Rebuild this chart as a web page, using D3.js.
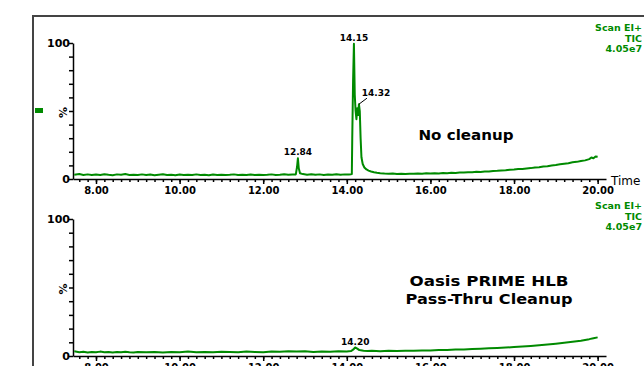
<!DOCTYPE html>
<html>
<head>
<meta charset="utf-8">
<script src="https://cdn.jsdelivr.net/npm/d3@7"></script>
<style>
  body { margin: 0; background: #fff; }
  svg { display: block; }
  .axis text { font-family: "DejaVu Sans", sans-serif; font-weight: bold; font-size: 10px; fill: #000; }
  .axis path, .axis line { stroke: #000; stroke-width: 1.5; }
</style>
</head>
<body>
<div id="chart"></div>
<script>
// chromatogram, no cleanup (time in min, % of 4.05e7)
const topTime = [7.48,7.6,7.7,7.8,7.9,8.0,8.1,8.2,8.3,8.4,8.5,8.6,8.7,8.8,8.9,9.0,9.1,9.2,9.3,9.4,9.5,9.6,9.7,9.8,9.9,10.0,10.1,10.2,10.3,10.4,10.5,10.6,10.7,10.8,10.9,11.0,11.1,11.2,11.3,11.4,11.5,11.6,11.7,11.8,11.9,12.0,12.1,12.2,12.3,12.4,12.5,12.6,12.7,12.78,12.81,12.83,12.85,12.88,12.95,13.05,13.15,13.25,13.35,13.45,13.55,13.65,13.75,13.85,13.95,14.05,14.1,14.12,14.13,14.15,14.17,14.19,14.21,14.23,14.25,14.27,14.29,14.31,14.33,14.35,14.38,14.42,14.47,14.52,14.58,14.65,14.72,14.8,14.9,15.0,15.1,15.2,15.3,15.4,15.5,15.6,15.7,15.8,15.9,16.0,16.1,16.2,16.3,16.4,16.5,16.6,16.7,16.8,16.9,17.0,17.1,17.2,17.3,17.4,17.5,17.6,17.7,17.8,17.9,18.0,18.1,18.2,18.3,18.4,18.5,18.6,18.7,18.8,18.9,19.0,19.1,19.2,19.3,19.4,19.5,19.6,19.7,19.8,19.85,19.9,19.95,20.0]
const topValue = [3.2,3.6,3.0,3.4,2.9,3.3,3.0,3.5,3.1,2.8,3.4,3.1,3.6,3.0,3.2,2.9,3.4,3.0,3.3,2.8,3.2,3.5,3.0,3.1,2.8,3.3,3.0,3.2,2.9,3.4,3.0,3.1,2.8,3.3,3.0,3.2,2.9,3.1,3.4,3.0,3.2,2.9,3.3,3.0,3.2,2.9,3.1,3.4,3.0,3.2,3.5,3.1,3.3,3.4,9.0,15.2,8.0,4.2,3.6,3.2,3.5,3.1,3.4,3.0,3.3,3.1,3.5,3.2,3.4,3.3,3.5,3.6,30,72,99.5,62,50,44,52,47,55,50,30,16,11,8.5,7.0,6.2,5.5,5.0,4.6,4.3,4.0,3.8,4.0,3.7,3.9,3.6,3.9,3.8,4.1,3.9,4.2,4.0,4.3,4.1,4.4,4.3,4.6,4.5,4.8,4.7,5.0,5.0,5.3,5.2,5.6,5.5,5.9,6.0,6.3,6.4,6.8,7.0,7.3,7.4,7.8,8.0,8.5,8.7,9.2,9.4,10.0,10.3,10.8,11.2,11.6,12.3,12.6,13.3,13.7,14.6,15.8,15.3,16.6,16.4]

// chromatogram, Oasis PRIME HLB pass-thru cleanup
const botTime = [7.48,7.6,7.7,7.8,7.9,8.0,8.1,8.2,8.3,8.4,8.5,8.6,8.7,8.8,8.9,9.0,9.2,9.4,9.6,9.8,10.0,10.2,10.4,10.6,10.8,11.0,11.2,11.4,11.6,11.8,12.0,12.2,12.4,12.6,12.8,13.0,13.2,13.4,13.6,13.8,14.0,14.1,14.15,14.2,14.25,14.3,14.4,14.5,14.6,14.8,15.0,15.2,15.4,15.6,15.8,16.0,16.2,16.4,16.6,16.8,17.0,17.2,17.4,17.6,17.8,18.0,18.2,18.4,18.6,18.8,19.0,19.2,19.4,19.6,19.8,19.9,20.0]
const botValue = [3.4,2.8,3.1,2.6,3.0,2.7,3.2,2.8,3.0,2.6,2.9,2.7,3.1,2.8,2.6,3.0,2.7,2.9,2.6,3.0,2.8,3.2,2.7,3.0,2.8,3.1,2.9,2.7,3.2,3.0,2.8,3.3,3.1,3.5,3.2,3.4,3.0,3.3,3.1,3.4,3.3,3.6,4.6,6.2,5.4,4.3,3.8,3.6,3.9,3.5,3.8,3.6,3.9,3.8,4.1,4.0,4.3,4.4,4.7,4.8,5.1,5.3,5.6,5.9,6.2,6.5,6.9,7.3,7.8,8.4,9.0,9.7,10.4,11.2,12.3,13.0,13.6]

const xTickLabels = ["8.00","10.00","12.00","14.00","16.00","18.00","20.00"]
const yTickLabels = ["0","%","100"]
const scanInfo = ["Scan EI+", "TIC", "4.05e7"]

const PANELS = [{
    time: topTime, value: topValue, top: 43, bottom: 179,
    peaks: [{t: 12.83, v: 15.2, label: "12.84"}, {t: 14.17, v: 99.5, label: "14.15"}, {t: 14.29, v: 55, label: "14.32", lead: true}],
    title: ["No cleanup"], titleX: 466, titleY: 140, titleW: [95],
    info: 28, marker: true
  },{
    time: botTime, value: botValue, top: 219, bottom: 356,
    peaks: [{t: 14.2, v: 6.2, label: "14.20"}],
    title: ["Oasis PRIME HLB", "Pass-Thru Cleanup"], titleX: 489, titleY: 286, titleW: [159, 167],
    info: 206, marker: false
  }]

const GREEN = "#008a00"
const width = 644, height = 366

const svg = d3.select("#chart").append("svg")
  .attr("width", width)
  .attr("height", height)

// outer frame
svg.append("path")
  .attr("d", "M33," + height + "V16H" + width)
  .attr("fill", "none")
  .attr("stroke", "#444")
  .attr("stroke-width", 2)

var x = d3.scaleLinear().domain([7.45, 20.2]).range([73, 606])

function drawPanel(p) {
  var y = d3.scaleLinear().domain([0, 100]).range([p.bottom, p.top])
  var g = svg.append("g")

  // Add X axis, minor ticks every 0.2 min
  var minor = d3.range(7.6, 20.15, 0.2)
  g.append("g")
    .attr("class", "axis")
    .attr("transform", "translate(0," + p.bottom + ")")
    .call(d3.axisBottom(x).tickValues(minor).tickSize(3).tickFormat("").tickSizeOuter(0))
  g.append("g")
    .attr("class", "axis")
    .attr("transform", "translate(0," + p.bottom + ")")
    .call(d3.axisBottom(x).tickValues(xTickLabels.map(Number)).tickSize(5).tickPadding(3)
      .tickFormat((d, i) => xTickLabels[i]).tickSizeOuter(0))
    .select(".domain").remove()

  // Add Y axis
  var ya = g.append("g")
    .attr("class", "axis")
    .attr("transform", "translate(73,0)")
    .call(d3.axisLeft(y).tickValues(d3.range(0, 101, 10)).tickSize(4).tickFormat("").tickSizeOuter(0))
  ya.selectAll(".ylab")
    .data([0, 50, 100])
    .join("text")
    .attr("class", "ylab")
    .attr("x", (d, i) => i == 1 ? -6 : -3)
    .attr("y", d => y(d))
    .attr("dy", "0.35em")
    .attr("text-anchor", "end")
    .style("font-size", "11px")
    .attr("transform", (d, i) => i == 1 ? "rotate(-90," + (-10) + "," + y(d) + ")" : null)
    .text((d, i) => yTickLabels[i])

  // "Time" label on the x axis end
  if (p.marker) {
    g.append("text")
      .attr("x", 611)
      .attr("y", p.bottom + 6)
      .attr("font-family", "DejaVu Sans, sans-serif")
      .attr("font-size", 12)
      .text("Time")
    g.append("rect")
      .attr("x", 35).attr("y", 108).attr("width", 8).attr("height", 5)
      .attr("fill", GREEN)
  }

  // Add the line
  var pts = p.time.map((t, i) => [t, p.value[i]])
  g.append("path")
    .datum(pts)
    .attr("fill", "none")
    .attr("stroke", GREEN)
    .attr("stroke-width", 2)
    .attr("stroke-linejoin", "round")
    .attr("d", d3.line().x(d => x(d[0])).y(d => y(d[1])))

  // peak labels
  for (let pk of p.peaks) {
    if (pk.lead) {
      g.append("line")
        .attr("x1", x(pk.t)).attr("y1", y(pk.v))
        .attr("x2", x(pk.t) + 8).attr("y2", y(pk.v) - 6)
        .attr("stroke", "#000").attr("stroke-width", 1)
      g.append("text")
        .attr("x", x(pk.t) + 17).attr("y", y(pk.v) - 8)
        .attr("text-anchor", "middle")
        .attr("font-family", "DejaVu Sans, sans-serif").attr("font-weight", "bold").attr("font-size", 9)
        .text(pk.label)
    } else {
      g.append("text")
        .attr("x", x(pk.t)).attr("y", y(pk.v) - 3)
        .attr("text-anchor", "middle")
        .attr("font-family", "DejaVu Sans, sans-serif").attr("font-weight", "bold").attr("font-size", 9)
        .text(pk.label)
    }
  }

  // panel title
  p.title.forEach((s, i) => {
    g.append("text")
      .attr("x", p.titleX).attr("y", p.titleY + i * 18)
      .attr("text-anchor", "middle")
      .attr("font-family", "DejaVu Sans, sans-serif").attr("font-weight", "bold").attr("font-size", 14)
      .attr("textLength", p.titleW[i]).attr("lengthAdjust", "spacingAndGlyphs")
      .text(s)
  })

  // scan info, top right
  scanInfo.forEach((s, i) => {
    g.append("text")
      .attr("x", 642).attr("y", p.info + 3 + i * 10.5)
      .attr("text-anchor", "end")
      .attr("fill", GREEN)
      .attr("font-family", "DejaVu Sans, sans-serif").attr("font-weight", "bold").attr("font-size", 9.5)
      .text(s)
  })
}

for (let p of PANELS) { drawPanel(p) }
</script>
</body>
</html>
